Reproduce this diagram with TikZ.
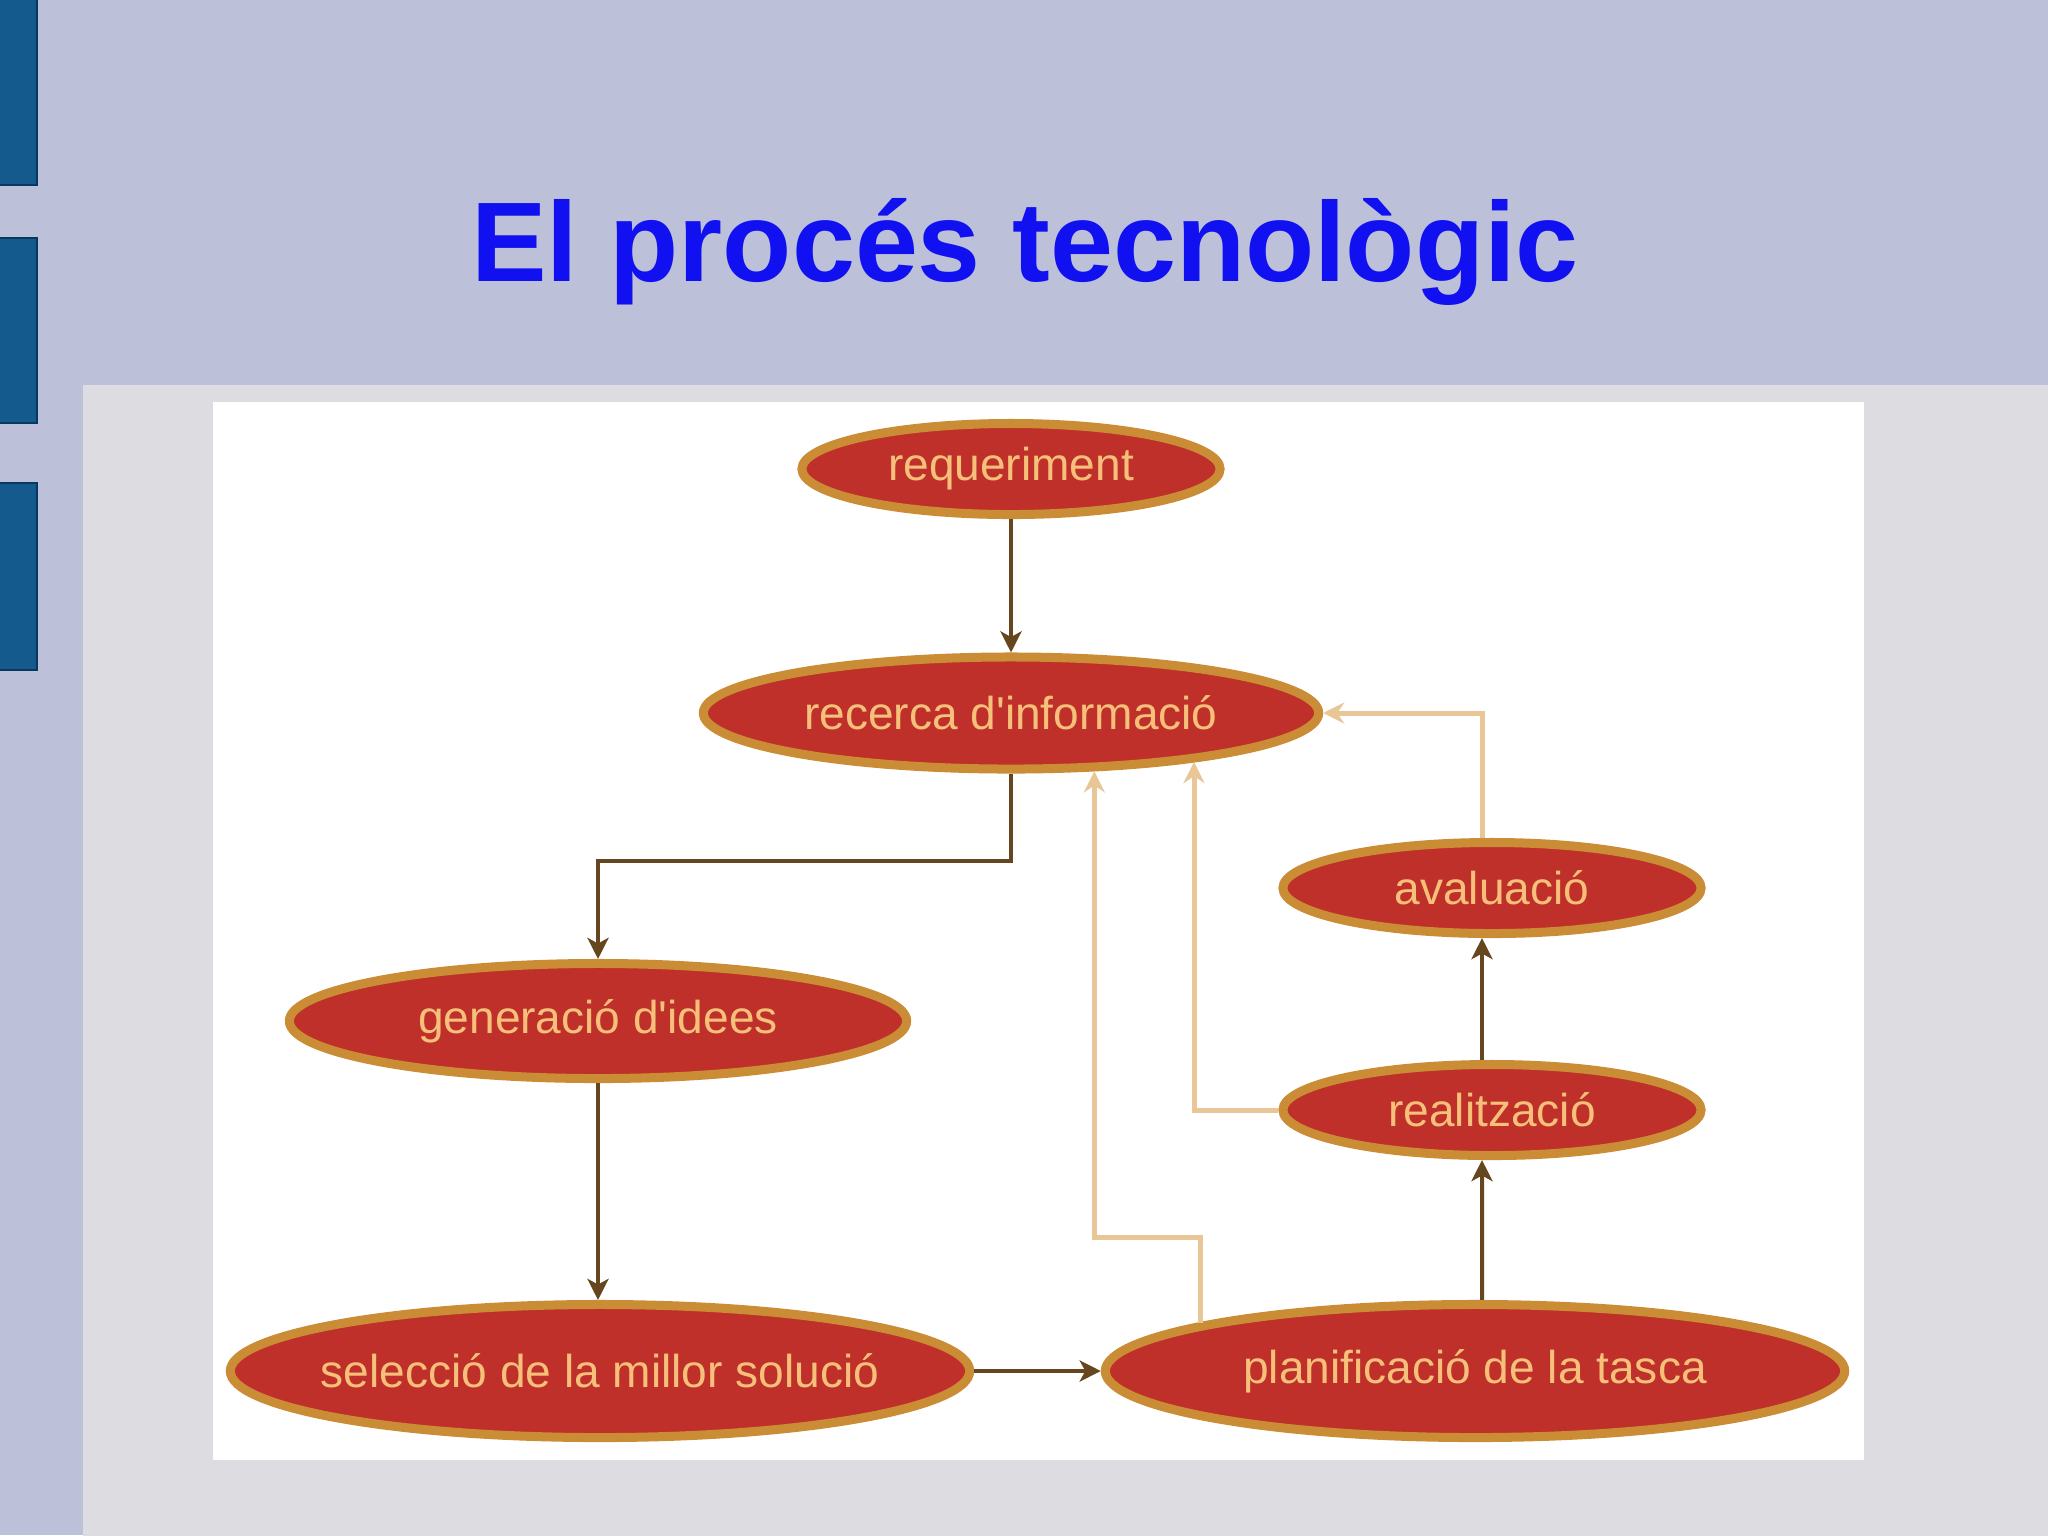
\documentclass[tikz,border=0pt]{standalone}
\usepackage{fontspec}
\setmainfont{Liberation Sans}
\newfontfamily\lblfont[Ligatures=TeXOff]{Liberation Sans}
\usepackage{tikz}
\usetikzlibrary{arrows.meta, calc, positioning, shapes.geometric}
\usepackage{xcolor}

\definecolor{slidebg}{RGB}{188,192,216}
\definecolor{panelgrey}{RGB}{221,221,225}
\definecolor{barblue}{RGB}{20,90,140}
\definecolor{barline}{RGB}{10,55,95}
\definecolor{titleblue}{RGB}{16,16,240}
\definecolor{stagered}{RGB}{192,48,42}
\definecolor{stagegold}{RGB}{202,140,52}
\definecolor{stagetext}{RGB}{246,192,122}
\definecolor{flowbrown}{RGB}{102,70,30}
\definecolor{backtan}{RGB}{232,198,150}

\begin{document}
\begin{tikzpicture}[x=0.01cm, y=-0.01cm,
  stage/.style={ellipse, draw=stagegold, line width=0.09cm, fill=stagered,
    text=stagetext, inner xsep=-1.5cm, inner ysep=0pt,
    font=\lblfont\fontsize{13.1}{16}\selectfont},
  small/.style={minimum width=4.18cm, minimum height=0.91cm},
  flow/.style={draw=flowbrown, line width=0.04cm,
    -{Stealth[length=6pt, width=6pt, inset=1.6pt]}},
  back/.style={draw=backtan, line width=0.05cm,
    -{Stealth[length=6pt, width=6pt, inset=2pt]}}]

  % slide background
  \fill[slidebg] (0,0) rectangle (2048,1535);
  \useasboundingbox (0,0) rectangle (2048,1535);
  \foreach \top/\bot in {-5/185, 238/423, 483/670}
    \filldraw[fill=barblue, draw=barline, line width=0.4pt] (-5,\top) rectangle (37,\bot);
  \fill[panelgrey] (83,385) rectangle (2048,1540);
  \fill[white] (213,402) rectangle (1864,1460);

  \node (title) at (1025,281) [anchor=base, text=titleblue,
    font=\bfseries\fontsize{32.2}{38}\selectfont] {El procés tecnològic};

  % stages
  \node (requeriment) at (1011,469) [stage, small] {requeriment};
  \node (recerca) at (1011,713) [stage, minimum width=6.15cm, minimum height=1.12cm] {recerca d'informació};
  \node (avaluacio) at (1492,888) [stage, small] {avaluació};
  \node (generacio) at (598,1021) [stage, minimum width=6.17cm, minimum height=1.15cm] {generació d'idees};
  \node (realitzacio) at (1492,1110) [stage, small] {realització};
  \node (seleccio) at (600,1371) [stage, minimum width=7.39cm, minimum height=1.33cm] {selecció de la millor solució};
  \node (planificacio) at (1475,1371) [stage, minimum width=7.39cm, minimum height=1.33cm] {planificació de la tasca};

  \coordinate (split) at (0,861);
  \coordinate (detour) at (0,1237);

  % forward flow
  \draw[flow] (requeriment) -- (recerca);
  \draw[flow] (recerca.south) -- (recerca.south |- split) -| (generacio.north);
  \draw[flow] (generacio.south) -- (generacio.south |- seleccio.north);
  \draw[flow] (seleccio) -- (planificacio);
  \draw[flow] ([xshift=0.07cm]planificacio.north) -- ([xshift=-0.1cm]realitzacio.south);
  \draw[flow] ([xshift=-0.1cm]realitzacio.north) -- ([xshift=-0.1cm]avaluacio.south);

  % feedback to recerca
  \draw[back] ([xshift=-0.1cm]avaluacio.north) |- (recerca.east);
  \draw[back] (realitzacio.west) -| (recerca.-15.35);
  \draw[back] (planificacio.170) -- (planificacio.170 |- detour) -| (recerca.-35.2);
\end{tikzpicture}
\end{document}
